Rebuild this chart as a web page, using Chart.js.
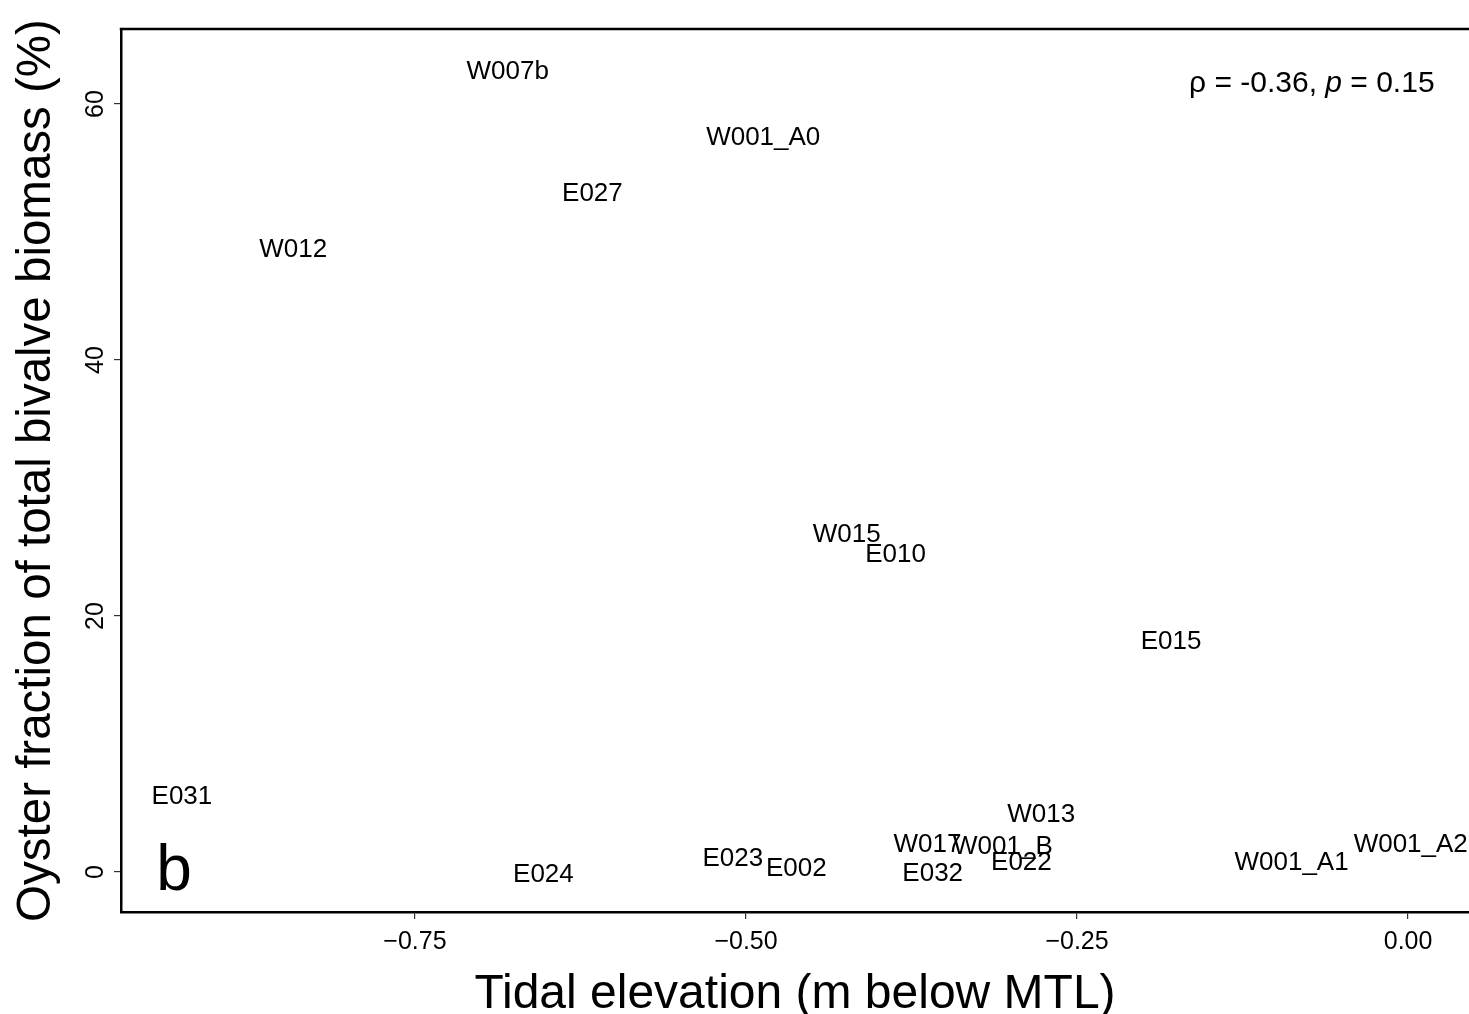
<!DOCTYPE html>
<html>
<head>
    <title>Oyster fraction vs tidal elevation</title>
    <meta charset="utf-8">
    <script src="https://cdn.jsdelivr.net/npm/chart.js"></script>
    <style>
        html, body { margin: 0; padding: 0; background: #fff; }
        #wrap { width: 1469px; height: 1014px; }
    </style>
</head>
<body>
    <div id="wrap"><canvas id="chart"></canvas></div>

    <script>
        // site labels and values
        const sites = ['W007b', 'W001_A0', 'E027', 'W012', 'W015', 'E010', 'E015', 'E031', 'W013',
                       'W017', 'W001_B', 'E022', 'E032', 'E023', 'E002', 'E024', 'W001_A1', 'W001_A2'];
        const elevation = [-0.680, -0.487, -0.616, -0.842, -0.424, -0.387, -0.179, -0.926, -0.277,
                           -0.363, -0.306, -0.292, -0.359, -0.510, -0.462, -0.653, -0.088, 0.002];
        const oysterPct = [62.7, 57.5, 53.1, 48.8, 26.5, 24.9, 18.1, 6.0, 4.6,
                           2.3, 2.1, 0.9, 0.0, 1.2, 0.4, -0.1, 0.9, 2.3];

        const xTicks = [-0.75, -0.50, -0.25, 0.00];
        const yTicks = [0, 20, 40, 60];
        const statText = ['ρ = -0.36, ', 'p', ' = 0.15'];
        const panelLetter = 'b';

        const FONT = '"Liberation Sans", Arial, Helvetica, sans-serif';

        const points = elevation.map((x, i) => ({ x: x, y: oysterPct[i] }));

        // draws site names at each point, plus frame and annotations
        const labelPlugin = {
            id: 'labels',
            afterDatasetsDraw(chart) {
                const ctx = chart.ctx;
                const area = chart.chartArea;
                const xs = chart.scales.x, ys = chart.scales.y;
                const meta = chart.getDatasetMeta(0);

                ctx.save();
                ctx.fillStyle = '#000';
                ctx.font = '26px ' + FONT;
                ctx.textAlign = 'center';
                ctx.textBaseline = 'middle';
                meta.data.forEach((pt, i) => {
                    ctx.fillText(sites[i], pt.x, pt.y + 2);
                });

                // panel letter
                ctx.font = '64px ' + FONT;
                ctx.fillText(panelLetter, xs.getPixelForValue(-0.932), ys.getPixelForValue(0));

                // correlation text, right aligned, p in italics
                const size = 30;
                ctx.font = size + 'px ' + FONT;
                const italic = 'italic ' + size + 'px ' + FONT;
                const w0 = ctx.measureText(statText[0]).width;
                const w2 = ctx.measureText(statText[2]).width;
                ctx.font = italic;
                const w1 = ctx.measureText(statText[1]).width;
                let tx = xs.getPixelForValue(0.020) - (w0 + w1 + w2);
                const ty = ys.getPixelForValue(61.6);
                ctx.textAlign = 'left';
                ctx.font = size + 'px ' + FONT;
                ctx.fillText(statText[0], tx, ty);
                tx += w0;
                ctx.font = italic;
                ctx.fillText(statText[1], tx, ty);
                tx += w1;
                ctx.font = size + 'px ' + FONT;
                ctx.fillText(statText[2], tx, ty);

                // top border of the panel
                ctx.strokeStyle = '#000';
                ctx.lineWidth = 2.5;
                ctx.beginPath();
                ctx.moveTo(area.left - 1.25, area.top);
                ctx.lineTo(area.right, area.top);
                ctx.stroke();
                ctx.restore();
            }
        };

        new Chart(document.getElementById('chart'), {
            type: 'scatter',
            data: {
                datasets: [{
                    data: points,
                    pointRadius: 0,
                    pointHoverRadius: 0,
                    showLine: false
                }]
            },
            options: {
                responsive: true,
                maintainAspectRatio: false,
                animation: false,
                events: [],
                layout: { padding: { top: 29, right: 0, left: 0, bottom: 0 } },
                plugins: {
                    legend: { display: false },
                    tooltip: { enabled: false }
                },
                scales: {
                    x: {
                        type: 'linear',
                        min: -0.972,
                        max: 0.046,
                        afterBuildTicks: axis => { axis.ticks = xTicks.map(v => ({ value: v })); },
                        afterFit: axis => { axis.height = 102; },
                        grid: { display: true, drawOnChartArea: false, drawTicks: true, tickLength: 7, color: '#333', lineWidth: 1.2 },
                        border: { display: true, color: '#000', width: 2.5 },
                        ticks: {
                            color: '#000',
                            padding: 8,
                            font: { family: FONT, size: 25 },
                            maxRotation: 0,
                            callback: v => v.toFixed(2).replace('-', '\u2212')
                        },
                        title: {
                            display: true,
                            text: 'Tidal elevation (m below MTL)',
                            color: '#000',
                            font: { family: FONT, size: 48, lineHeight: 0.8 },
                            padding: 0
                        }
                    },
                    y: {
                        type: 'linear',
                        min: -3.125,
                        max: 65.86,
                        afterBuildTicks: axis => { axis.ticks = yTicks.map(v => ({ value: v })); },
                        afterFit: axis => { axis.width = 121; },
                        grid: { display: true, drawOnChartArea: false, drawTicks: true, tickLength: 7, color: '#333', lineWidth: 1.2 },
                        border: { display: true, color: '#000', width: 2.5 },
                        ticks: {
                            color: '#000',
                            padding: 4,
                            minRotation: 90,
                            maxRotation: 90,
                            crossAlign: 'center',
                            font: { family: FONT, size: 25 },
                            callback: v => String(v)
                        },
                        title: {
                            display: true,
                            text: 'Oyster fraction of total bivalve biomass (%)',
                            color: '#000',
                            font: { family: FONT, size: 47.5, lineHeight: 1.2 },
                            padding: { top: 8, bottom: 0 }
                        }
                    }
                }
            },
            plugins: [labelPlugin]
        });
    </script>
</body>
</html>
